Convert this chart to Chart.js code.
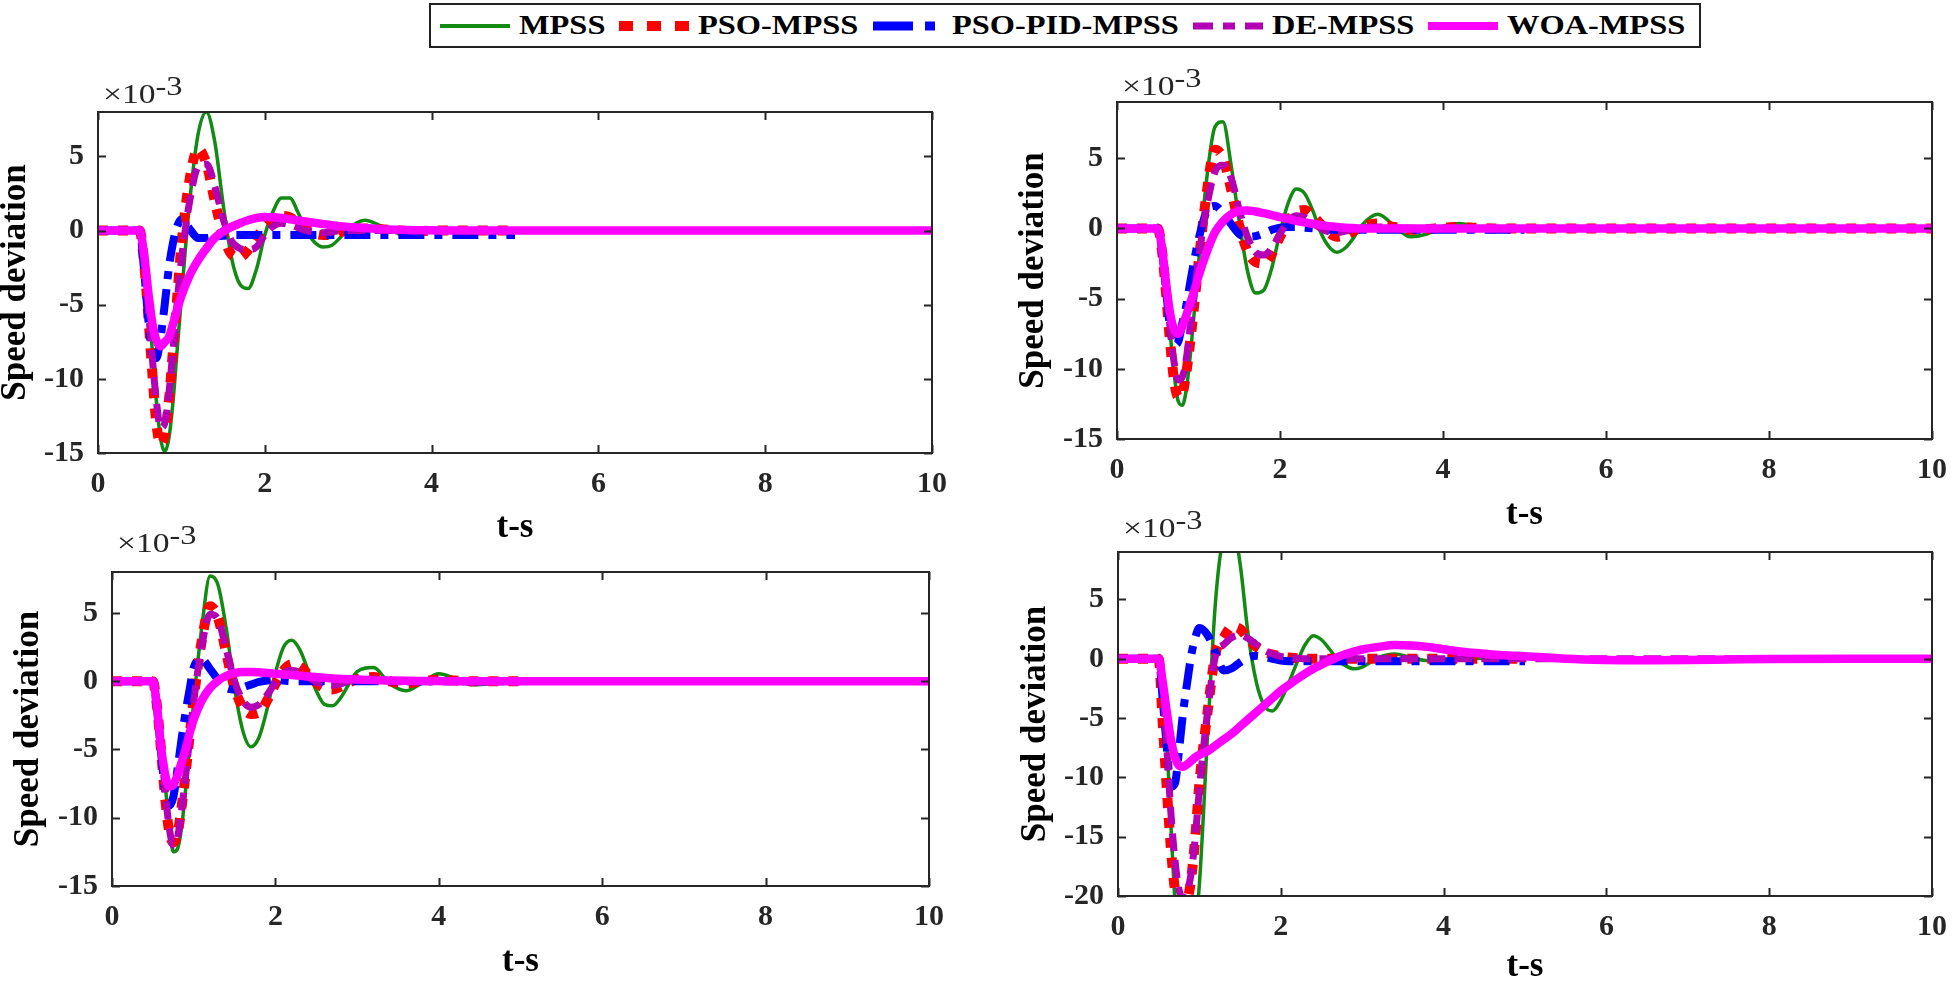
<!DOCTYPE html>
<html>
<head>
<meta charset="utf-8">
<title>Speed deviation</title>
<script src="https://cdn.jsdelivr.net/npm/chart.js@4.4.1/dist/chart.umd.min.js"></script>
<style>
  html, body { margin: 0; padding: 0; background: #fff; }
  body { width: 1960px; height: 987px; position: relative; overflow: hidden;
         font-family: 'Liberation Serif', 'Times New Roman', serif; }
  canvas { position: absolute; }
  #legend { position: absolute; left: 429px; top: 3px; height: 45px; box-sizing: border-box;
            border: 2px solid #222; background: #fff; display: flex; align-items: center;
            padding: 0 0 0 9px; }
  #legend .item { display: flex; align-items: center; }
  #legend svg { margin-right: 9px; }
  #legend .txt { display: inline-block; font-weight: bold; font-size: 27px; color: #000; line-height: 1;
                 transform: scaleX(1.2); transform-origin: 0 50%; white-space: nowrap; }
  .exp { position: absolute; font-size: 28px; color: #262626; line-height: 28px; white-space: nowrap;
         transform: scaleX(1.2); transform-origin: 0 0; }
  .exp .sup { position: relative; top: -8px; font-size: 27px; }
</style>
</head>
<body>
<div id="legend"></div>

<canvas id="p1" width="980" height="485" style="left:0px;top:60px"></canvas>
<canvas id="p2" width="980" height="472" style="left:980px;top:60px"></canvas>
<canvas id="p3" width="980" height="439" style="left:0px;top:540px"></canvas>
<canvas id="p4" width="980" height="464" style="left:980px;top:520px"></canvas>

<div class="exp" style="left:103px;top:80px">&times;10<span class="sup">-3</span></div>
<div class="exp" style="left:1122px;top:72px">&times;10<span class="sup">-3</span></div>
<div class="exp" style="left:117px;top:529px">&times;10<span class="sup">-3</span></div>
<div class="exp" style="left:1123px;top:514px">&times;10<span class="sup">-3</span></div>

<script>
// ---- data (values in units of 1e-3) ----
const seriesNames = ['MPSS', 'PSO-MPSS', 'PSO-PID-MPSS', 'DE-MPSS', 'WOA-MPSS'];

// time axis (s); short series stop at 5 s, long ones run to 10 s
const time = [0, 0.5, 0.55, 0.6, 0.65, 0.7, 0.75, 0.8, 0.85, 0.9, 0.95, 1.0,
  1.1, 1.2, 1.3, 1.4, 1.5, 1.6, 1.7, 1.8, 1.9, 2.0,
  2.1, 2.2, 2.3, 2.4, 2.5, 2.6, 2.7, 2.8, 2.9, 3.0,
  3.2, 3.4, 3.6, 3.8, 4.0, 4.2, 4.4, 4.6, 4.8, 5.0,
  5.5, 6, 6.5, 7, 7.5, 8, 9, 10];

const xTicks = [0, 2, 4, 6, 8, 10];
const yTicks15 = [-15, -10, -5, 0, 5];
const yTicks20 = [-20, -15, -10, -5, 0, 5];

// top left
const p1Mpss = [0, 0, -1.5, -4.5, -8, -11.5, -14, -14.9, -14, -11.5, -8, -4.5,
  2, 6.5, 8.0, 6, 1.8, -1.8, -3.6, -3.9, -2.6, -0.3,
  1.3, 2.2, 2.2, 1.2, 0, -0.8, -1.1, -1.0, -0.5, 0.1,
  0.7, 0.3, -0.2, -0.3, 0, 0.15, 0.05, -0.05, 0, 0];
const p1Pso = [0, 0, -2, -5.5, -9.5, -13, -14.4, -13.8, -11.5, -8, -4.5, -1,
  3.5, 5.5, 4.5, 2, -0.3, -1.6, -1.8, -1.3, -0.5, 0.3,
  0.8, 1.0, 0.9, 0.5, 0.1, -0.2, -0.3, -0.3, -0.1, 0,
  0.15, 0.1, 0, -0.05, 0, 0, 0, 0, 0, 0];
const p1Pid = [0, 0, -2.5, -5.8, -8.3, -8.6, -7.2, -5, -2.5, -0.8, 0.3, 0.75,
  0.1, -0.5, -0.5, -0.4, -0.35, -0.3, -0.3, -0.3, -0.3, -0.3,
  -0.3, -0.3, -0.3, -0.3, -0.3, -0.3, -0.3, -0.3, -0.3, -0.3,
  -0.3, -0.3, -0.3, -0.3, -0.3, -0.3, -0.3, -0.3, -0.3, -0.3];
const p1De = [0, 0, -1.8, -5, -8.5, -11.5, -13.3, -13, -11, -8, -4.8, -2,
  2, 4.3, 4.5, 3, 0.8, -0.7, -1.2, -1.3, -1.1, -0.3,
  0.3, 0.5, 0.4, 0.2, 0, -0.1, -0.15, -0.1, 0, 0,
  0, 0, 0, 0, 0, 0, 0, 0, 0, 0];
const p1Woa = [0, 0, -1.5, -4, -6.2, -7.4, -7.8, -7.5, -7.2, -6.3, -5.3, -4.4,
  -3.0, -2.0, -1.2, -0.5, -0.05, 0.25, 0.5, 0.7, 0.85, 0.92,
  0.9, 0.85, 0.77, 0.68, 0.6, 0.52, 0.44, 0.37, 0.3, 0.25,
  0.17, 0.1, 0.06, 0.03, 0.02, 0, 0, 0, 0, 0,
  0, 0, 0, 0, 0, 0, 0, 0];

// top right
const p2Mpss = [0, 0, -1.2, -4, -7.3, -10.3, -12.3, -12.6, -11.5, -9, -5.8, -2.5,
  3.5, 7.2, 7.6, 4.5, 0.5, -3, -4.6, -4.4, -2.8, -0.3,
  1.8, 2.8, 2.5, 1.3, -0.3, -1.3, -1.7, -1.4, -0.7, 0.2,
  1.0, 0.2, -0.6, -0.4, 0.15, 0.35, 0.1, -0.2, -0.1, 0.05];
const p2Pso = [0, 0, -1.5, -4.5, -8, -10.8, -12, -11.8, -10.3, -8, -5.3, -2.5,
  2.5, 5.6, 5.0, 2.8, 0.2, -1.6, -2.4, -2.5, -1.8, -0.6,
  0.5, 1.2, 1.3, 0.9, 0.3, -0.3, -0.6, -0.5, -0.2, 0.1,
  0.35, 0.1, -0.1, -0.05, 0.05, 0.1, 0.05, 0, 0, 0,
  0, 0, 0, 0, 0, 0, 0, 0];
const p2Pid = [0, 0, -1.5, -4.3, -7, -8.3, -8.1, -6.8, -5.5, -3.8, -2.2, -0.8,
  1.2, 1.6, 1.1, 0.3, -0.4, -0.6, -0.55, -0.35, -0.1, 0.05,
  0.1, 0.1, 0.05, 0, -0.05, -0.1, -0.1, -0.1, -0.1, -0.1,
  -0.1, -0.1, -0.1, -0.1, -0.1, -0.1, -0.1, -0.1, -0.1, -0.1];
const p2De = [0, 0, -1.3, -4, -7, -9.5, -10.8, -10.6, -9.3, -7, -4.6, -2.2,
  1.5, 4, 4.5, 3.6, 1.3, -0.6, -1.7, -1.9, -1.4, -0.4,
  0.5, 0.9, 0.8, 0.4, 0, -0.25, -0.3, -0.2, -0.05, 0.05,
  0.1, 0.05, 0, -0.05, 0, 0, 0, 0, 0, 0,
  0, 0, 0, 0, 0, 0, 0, 0];
const p2Woa = [0, 0, -1.3, -3.8, -6, -7.2, -7.5, -7, -6.2, -5.3, -4.4, -3.4,
  -1.7, -0.3, 0.5, 1.0, 1.25, 1.28, 1.2, 1.08, 0.95, 0.8,
  0.67, 0.54, 0.43, 0.33, 0.24, 0.16, 0.1, 0.05, 0.02, 0,
  0, 0, 0, 0, 0, 0, 0, 0, 0, 0,
  0, 0, 0, 0, 0, 0, 0, 0];

// bottom left
const p3Mpss = [0, 0, -1.3, -4.2, -7.5, -10.5, -12.5, -12.3, -10.8, -8, -4.8, -1.5,
  4, 7.7, 7.0, 3.8, -0.5, -3.6, -4.8, -4.1, -2, 0.6,
  2.5, 3.0, 2.3, 0.8, -0.7, -1.7, -1.8, -1.2, -0.2, 0.7,
  1.0, -0.2, -0.7, -0.1, 0.55, 0.2, -0.25, -0.2, 0.1, 0.1];
const p3Pso = [0, 0, -1.8, -5, -8.5, -11, -11.8, -11.2, -9.3, -6.8, -4, -1.3,
  3, 5.5, 4.6, 2, -0.5, -1.9, -2.4, -2.3, -1.4, -0.2,
  0.8, 1.25, 1.1, 0.5, -0.1, -0.5, -0.6, -0.4, -0.1, 0.15,
  0.3, 0, -0.15, 0, 0.1, 0.05, 0, 0, 0, 0];
const p3Pid = [0, 0, -2, -5.2, -8, -9.1, -8.5, -6.5, -4.3, -2.3, -0.6, 1.0,
  1.6, 0.9, 0.1, -0.5, -0.6, -0.45, -0.25, -0.05, 0.05, 0.1,
  0.05, 0, 0, 0, 0, 0, 0, 0, 0, 0,
  0, 0, 0, 0, 0, 0, 0, 0, 0, 0];
const p3De = [0, 0, -1.5, -4.5, -8, -10.7, -12, -11.5, -9.5, -7, -4.2, -1.5,
  2.6, 4.9, 4.5, 2.3, 0, -1.4, -1.9, -1.7, -1, -0.1,
  0.6, 0.8, 0.65, 0.3, -0.05, -0.25, -0.3, -0.2, 0, 0.1,
  0.15, 0, -0.05, 0, 0, 0, 0, 0, 0, 0];
const p3Woa = [0, 0, -1.8, -4.8, -6.8, -7.7, -7.6, -6.9, -6, -5, -3.8, -2.8,
  -1.4, -0.5, 0.05, 0.4, 0.6, 0.68, 0.68, 0.65, 0.6, 0.55,
  0.5, 0.45, 0.4, 0.35, 0.3, 0.25, 0.2, 0.17, 0.14, 0.12,
  0.08, 0.05, 0.03, 0.02, 0.01, 0, 0, 0, 0, 0,
  0, 0, 0, 0, 0, 0, 0, 0];

// bottom right
const p4Mpss = [0, 0, -2.5, -7, -14, -20.5, -24.5, -26.5, -26.5, -25, -22.5, -19,
  -6.5, 5, 10.5, 11.5, 8, 2, -2, -4, -4.4, -3.5,
  -2, -0.3, 1.2, 1.95, 1.6, 0.8, -0.1, -0.6, -0.85, -0.7,
  0.1, 0.4, 0.1, -0.15, -0.1, 0.05, 0.05, 0, 0, 0];
const p4Pso = [0, 0, -5.5, -11, -16, -19.5, -21.2, -21.5, -20.5, -18.5, -15, -10.5,
  -4.5, 0.5, 1.8, 2.7, 2.5, 1.7, 1.0, 0.6, 0.35, 0.2,
  0.1, 0.05, 0, 0, 0, 0, 0, 0, 0, 0,
  0, 0, 0, 0, 0, 0, 0, 0, 0, 0];
const p4Pid = [0, 0, -3.5, -7.5, -10.8, -10.5, -7.7, -4.5, -2, 0.3, 1.8, 2.6,
  2.0, 0.5, -1.0, -0.8, -0.3, 0.1, 0.25, 0.15, 0, -0.15,
  -0.2, -0.2, -0.2, -0.2, -0.2, -0.2, -0.2, -0.2, -0.2, -0.2,
  -0.2, -0.2, -0.2, -0.2, -0.2, -0.2, -0.2, -0.2, -0.2, -0.2];
const p4De = [0, 0, -2.5, -7.5, -13, -17, -19.5, -20.2, -19.7, -18, -15, -11,
  -4.5, 0.3, 1.2, 1.8, 2.0, 1.7, 1.2, 0.7, 0.4, 0.2,
  0.1, 0.05, 0, 0, 0, 0, 0, 0, 0, 0,
  0, 0, 0, 0, 0, 0, 0, 0, 0, 0,
  0, 0, 0, 0, 0, 0, 0, 0];
const p4Woa = [0, 0, -2, -4.5, -6.8, -8.3, -9, -9.1, -8.9, -8.6, -8.3, -8.1,
  -7.8, -7.3, -6.8, -6.3, -5.7, -5.1, -4.5, -3.9, -3.3, -2.7,
  -2.2, -1.7, -1.25, -0.85, -0.5, -0.15, 0.15, 0.4, 0.6, 0.78,
  1.0, 1.15, 1.12, 1.0, 0.8, 0.62, 0.48, 0.36, 0.28, 0.22,
  0, -0.1, -0.12, -0.1, -0.06, -0.02, 0, 0];

// ---- styles ----
const lineStyles = [
  { color: '#138a13', width: 3.5, dash: [], legendWidth: 4, legendDash: 'none' },
  { color: '#ff0000', width: 10, dash: [10, 10], legendWidth: 10, legendDash: '14 14' },
  { color: '#0000ff', width: 8, dash: [26, 10, 8, 10], legendWidth: 9, legendDash: '40 12 10 12' },
  { color: '#b400b4', width: 7, dash: [18, 9], legendWidth: 7, legendDash: '20 10 12 10' },
  { color: '#ff00ff', width: 8.5, dash: [], legendWidth: 8, legendDash: 'none' }
];

Chart.defaults.font.family = "'Liberation Serif', 'Times New Roman', serif";
Chart.defaults.color = '#262626';

// box with inward ticks on all four sides, like the original axes
const framePlugin = {
  id: 'frame',
  afterDatasetsDraw(chart) {
    const { ctx, chartArea: a } = chart;
    const x = chart.scales.x, y = chart.scales.y;
    const len = 8;
    ctx.save();
    ctx.strokeStyle = '#262626';
    ctx.lineWidth = 2;
    ctx.beginPath();
    x.ticks.forEach(t => {
      const px = Math.round(x.getPixelForValue(t.value)) + 0.5;
      ctx.moveTo(px, a.bottom); ctx.lineTo(px, a.bottom - len);
      ctx.moveTo(px, a.top); ctx.lineTo(px, a.top + len);
    });
    y.ticks.forEach(t => {
      const py = Math.round(y.getPixelForValue(t.value)) + 0.5;
      ctx.moveTo(a.left, py); ctx.lineTo(a.left + len, py);
      ctx.moveTo(a.right, py); ctx.lineTo(a.right - len, py);
    });
    ctx.stroke();
    ctx.strokeRect(a.left, a.top, a.right - a.left, a.bottom - a.top);
    ctx.restore();
  }
};

function makePanel(id, p) {
  const datasets = p.series.map((vals, i) => ({
    label: seriesNames[i],
    data: vals.map((v, k) => ({ x: time[k], y: v })),
    borderColor: lineStyles[i].color,
    borderWidth: lineStyles[i].width,
    borderDash: lineStyles[i].dash,
    borderCapStyle: 'butt',
    borderJoinStyle: 'round',
    pointRadius: 0,
    cubicInterpolationMode: 'monotone',
    order: seriesNames.length - i,
    clip: 0
  }));

  return new Chart(document.getElementById(id), {
    type: 'line',
    data: { datasets },
    options: {
      responsive: false,
      animation: false,
      devicePixelRatio: 1,
      layout: { padding: { top: p.padTop, right: p.padRight, left: 0, bottom: 0 } },
      plugins: { legend: { display: false }, tooltip: { enabled: false } },
      scales: {
        x: {
          type: 'linear', min: 0, max: 10,
          grid: { display: false, drawTicks: false },
          border: { display: false },
          afterBuildTicks: s => { s.ticks = xTicks.map(v => ({ value: v })); },
          afterFit: s => { s.height = p.xH; },
          ticks: { padding: 13, autoSkip: false, maxRotation: 0,
                   font: { size: 30, weight: 'bold' }, color: '#262626' },
          title: { display: true, text: 't-s', color: '#000', padding: 0,
                   font: { size: 35, weight: 'bold', lineHeight: 1 } }
        },
        y: {
          type: 'linear', min: p.yMin, max: p.yMax,
          grid: { display: false, drawTicks: false },
          border: { display: false },
          afterBuildTicks: s => { s.ticks = p.yTicks.map(v => ({ value: v })); },
          afterFit: s => { s.width = p.yW; },
          ticks: { padding: 14, font: { size: 30, weight: 'bold' }, color: '#262626' },
          title: { display: true, text: 'Speed deviation', color: '#000',
                   padding: { top: p.titlePad, bottom: 0 },
                   font: { size: 35, weight: 'bold', lineHeight: 1 } }
        }
      }
    },
    plugins: [framePlugin]
  });
}

makePanel('p1', { series: [p1Mpss, p1Pso, p1Pid, p1De, p1Woa], yMin: -15, yMax: 8, yTicks: yTicks15,
  yW: 98, padTop: 52, padRight: 48, xH: 92, titlePad: -2 });
makePanel('p2', { series: [p2Mpss, p2Pso, p2Pid, p2De, p2Woa], yMin: -15, yMax: 9, yTicks: yTicks15,
  yW: 137, padTop: 42, padRight: 18, xH: 93, titlePad: 36 });
makePanel('p3', { series: [p3Mpss, p3Pso, p3Pid, p3De, p3Woa], yMin: -15, yMax: 8, yTicks: yTicks15,
  yW: 112, padTop: 19, padRight: 51, xH: 93, titlePad: 11 });
makePanel('p4', { series: [p4Mpss, p4Pso, p4Pid, p4De, p4Woa], yMin: -20, yMax: 9, yTicks: yTicks20,
  yW: 138, padTop: 24, padRight: 19, xH: 88, titlePad: 38 });

// legend across the top (text is widened like the original figure)
const legendStretch = 1.2;
const legend = document.getElementById('legend');
seriesNames.forEach((name, i) => {
  const st = lineStyles[i];
  const item = document.createElement('div');
  item.className = 'item';
  item.innerHTML = '<svg width="70" height="14"><line x1="0" y1="7" x2="70" y2="7" stroke="' + st.color +
    '" stroke-width="' + st.legendWidth + '" stroke-dasharray="' + st.legendDash + '"/></svg>' +
    '<span class="txt">' + name + '</span>';
  legend.appendChild(item);
  const txt = item.querySelector('.txt');
  txt.style.marginRight = (txt.offsetWidth * (legendStretch - 1) + 14) + 'px';
});
</script>
</body>
</html>
